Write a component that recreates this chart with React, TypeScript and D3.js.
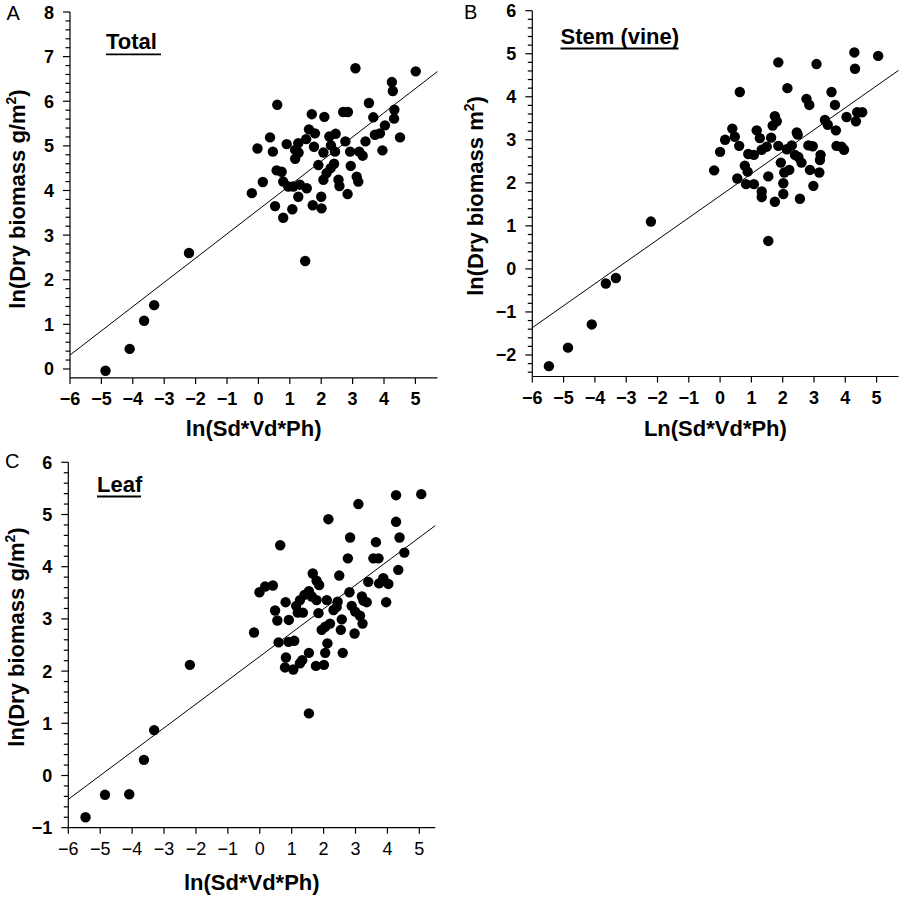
import React from "react";
import * as d3 from "d3";

// ---------- DATA ----------
const A_X = [-4.87,-4.10,-3.64,-3.32,-2.21,1.49,-0.21,-0.03,0.14,0.37,0.46,0.60,0.58,0.74,0.53,0.79,0.90,0.79,0.95,1.08,1.11,1.17,1.17,1.27,1.28,1.32,1.27,1.52,1.54,1.61,1.70,1.73,1.77,1.80,1.91,2.00,2.01,2.07,2.10,2.07,2.17,2.26,2.31,2.30,2.41,2.44,2.46,2.55,2.58,2.70,2.85,2.77,2.84,2.92,2.94,3.09,3.13,3.18,3.21,3.32,3.41,3.52,3.66,3.71,3.87,3.95,4.03,4.25,4.28,4.33,4.32,4.51,5.01];
const A_Y = [-0.04,0.45,1.08,1.43,2.60,2.42,3.94,4.94,4.19,5.19,4.87,5.92,4.45,4.42,3.65,3.39,5.04,4.20,4.09,3.58,4.09,4.91,4.71,5.06,4.85,4.13,3.86,5.15,4.05,5.37,5.71,3.67,4.98,5.28,4.57,3.86,3.60,4.85,5.65,4.24,4.39,5.21,5.01,4.50,4.60,4.87,5.27,4.24,4.10,5.76,5.76,5.10,3.92,4.87,4.55,6.74,4.31,4.20,4.87,4.78,5.10,5.96,5.64,5.25,5.28,4.90,5.46,6.43,6.23,5.81,5.61,5.19,6.67];

const B_X = [-5.47,-4.86,-4.10,-3.65,-3.33,-2.21,1.54,-0.19,0.00,0.16,0.39,0.47,0.61,0.63,0.55,0.79,0.88,0.83,0.90,1.08,1.08,1.17,1.27,1.33,1.33,1.33,1.49,1.63,1.54,1.68,1.75,1.81,1.75,1.86,1.86,1.94,2.02,2.02,2.05,2.21,2.15,2.13,2.29,2.45,2.48,2.39,2.50,2.55,2.60,2.76,2.85,2.82,2.96,2.87,2.98,3.08,3.17,3.21,3.19,3.35,3.44,3.56,3.67,3.70,3.72,3.88,3.96,4.04,4.29,4.31,4.34,4.38,4.54,5.05];
const B_Y = [-2.26,-1.83,-1.29,-0.34,-0.21,1.10,0.65,2.29,2.72,3.00,3.26,3.07,2.86,4.11,2.10,2.40,2.26,1.97,2.67,2.65,1.97,3.22,3.04,1.80,1.67,2.77,2.84,3.05,2.15,3.33,3.55,3.43,1.56,2.86,4.80,2.47,1.99,1.74,2.24,2.30,4.20,2.78,2.87,3.17,3.12,2.65,2.60,1.63,2.47,3.95,3.81,2.87,2.85,2.30,1.93,4.76,2.24,2.65,2.53,3.46,3.35,4.11,3.81,3.22,2.86,2.84,2.77,3.53,5.03,4.65,3.43,3.64,3.64,4.95];

const C_X = [-5.46,-4.85,-4.09,-3.63,-3.31,-2.19,1.54,-0.18,-0.01,0.17,0.41,0.48,0.55,0.64,0.59,0.81,0.82,0.79,0.91,0.90,1.08,1.05,1.14,1.19,1.35,1.26,1.40,1.54,1.26,1.33,1.54,1.63,1.78,1.66,1.78,1.86,1.84,1.76,2.01,1.94,2.05,2.20,2.05,2.12,2.15,2.10,2.31,2.41,2.44,2.49,2.57,2.54,2.60,2.76,2.81,2.83,2.88,2.99,2.97,3.14,3.09,3.20,3.25,3.35,3.22,3.40,3.56,3.72,3.64,3.74,3.87,3.96,4.03,4.27,4.27,4.34,4.38,4.53,5.06];
const C_Y = [-0.80,-0.37,-0.36,0.30,0.87,2.12,1.19,2.74,3.51,3.62,3.64,3.16,2.97,4.41,2.55,3.32,2.26,2.07,2.98,2.56,2.58,2.03,3.25,3.12,3.12,3.36,3.46,3.53,2.15,2.21,2.35,3.43,3.36,3.87,3.73,3.65,3.11,2.10,2.12,2.79,2.85,2.91,2.35,2.53,4.91,3.36,3.17,3.23,3.33,3.83,2.99,2.79,2.35,4.16,3.51,4.56,3.25,3.14,2.72,3.06,5.20,3.43,3.35,3.32,2.91,3.71,4.16,4.16,4.47,3.68,3.78,3.32,3.67,5.37,4.86,3.94,4.56,4.27,5.39];

const PANEL_LETTERS = ["A", "B", "C"];
const PANEL_TITLES = ["Total", "Stem (vine)", "Leaf"];
const X_TITLES = ["ln(Sd*Vd*Ph)", "Ln(Sd*Vd*Ph)", "ln(Sd*Vd*Ph)"];
const Y_TITLES_MAIN = ["ln(Dry biomass g/m", "ln(Dry biomass m", "ln(Dry biomass g/m"];
const FIT_INTERCEPT = [3.57, 1.70, 2.28];
const FIT_SLOPE = [0.543, 0.511, 0.456];
const X_DOMAINS = [[-6, 5.7], [-6, 5.7], [-6, 5.5]];
const Y_DOMAINS = [[-0.2, 8], [-2.5, 6], [-1, 6]];
const X_TICKS = [-6, -5, -4, -3, -2, -1, 0, 1, 2, 3, 4, 5];
const Y_TICKS = [
  [0, 1, 2, 3, 4, 5, 6, 7, 8],
  [-2, -1, 0, 1, 2, 3, 4, 5, 6],
  [-1, 0, 1, 2, 3, 4, 5, 6],
];

const FONT = "'Liberation Sans', Arial, Helvetica, sans-serif";

const fmt = (v: number) => (v < 0 ? "\u2212" + Math.abs(v) : String(v));

type Layout = {
  left: number; right: number; top: number; bottom: number;
  letter: [number, number];
  title: [number, number, number]; // x, baseline, underline width
  yTitle: [number, number];
  xTitleY: number;
  xTickBold: boolean;
};

const LAYOUTS: Layout[] = [
  { left: 70, right: 437.4, top: 12, bottom: 377.9, letter: [6.5, 19.5], title: [106, 49.3, 55], yTitle: [25, 199], xTitleY: 435.5, xTickBold: true },
  { left: 532.3, right: 898.5, top: 10.7, bottom: 376.5, letter: [464, 18.5], title: [560.5, 43.5, 118], yTitle: [483, 196], xTitleY: 435.5, xTickBold: true },
  { left: 68.3, right: 435.3, top: 462.3, bottom: 827.7, letter: [5, 468], title: [97, 491.5, 44], yTitle: [24, 637], xTitleY: 890, xTickBold: false },
];

const DATA_X = [A_X, B_X, C_X];
const DATA_Y = [A_Y, B_Y, C_Y];

function Panel({ i }: { i: number }) {
  const L = LAYOUTS[i];
  const xs = d3.scaleLinear().domain(X_DOMAINS[i]).range([L.left, L.right]);
  const ys = d3.scaleLinear().domain(Y_DOMAINS[i]).range([L.bottom, L.top]);
  const [y0, y1] = Y_DOMAINS[i];
  const minor: number[] = [];
  for (let k = Math.ceil(y0 / 0.2 - 1e-6); k * 0.2 <= y1 + 1e-6; k++) {
    const v = +(k * 0.2).toFixed(2);
    if (v <= y0 + 1e-6) continue;
    if (Math.abs(v - Math.round(v)) < 1e-6) continue;
    minor.push(v);
  }
  const [xd0, xd1] = X_DOMAINS[i];
  const line = d3.line<number>().x((x) => xs(x)).y((x) => ys(FIT_INTERCEPT[i] + FIT_SLOPE[i] * x));
  return (
    <g fontFamily={FONT}>
      {/* fit line */}
      <path d={line([xd0, xd1]) || ""} stroke="#000" strokeWidth={1} fill="none" />
      {/* points */}
      {DATA_X[i].map((x, j) => (
        <circle key={j} cx={xs(x)} cy={ys(DATA_Y[i][j])} r={5.2} fill="#000" />
      ))}
      {/* axes */}
      <line x1={L.left} x2={L.left} y1={L.top} y2={L.bottom} stroke="#000" strokeWidth={1.2} />
      <line x1={L.left} x2={L.right} y1={L.bottom} y2={L.bottom} stroke="#000" strokeWidth={1.2} />
      {Y_TICKS[i].map((t) => (
        <g key={"y" + t}>
          <line x1={L.left - 7} x2={L.left} y1={ys(t)} y2={ys(t)} stroke="#000" strokeWidth={1.2} />
          <text x={L.left - 16} y={ys(t) + 6.5} textAnchor="end" fontSize={18} fontWeight="bold">{fmt(t)}</text>
        </g>
      ))}
      {minor.map((t) => (
        <line key={"m" + t} x1={L.left - 4.5} x2={L.left} y1={ys(t)} y2={ys(t)} stroke="#000" strokeWidth={1.2} />
      ))}
      {X_TICKS.filter((t) => t >= xd0 && t <= xd1).map((t) => (
        <g key={"x" + t}>
          <line x1={xs(t)} x2={xs(t)} y1={L.bottom} y2={L.bottom + 6} stroke="#000" strokeWidth={1.2} />
          <text x={xs(t)} y={L.bottom + 27.5} textAnchor="middle" fontSize={18} fontWeight={L.xTickBold ? "bold" : "normal"}>{fmt(t)}</text>
        </g>
      ))}
      {/* titles */}
      <text x={(L.left + L.right) / 2} y={L.xTitleY} textAnchor="middle" fontSize={22} fontWeight="bold">{X_TITLES[i]}</text>
      <text transform={`translate(${L.yTitle[0]},${L.yTitle[1]}) rotate(-90)`} textAnchor="middle" fontSize={22} fontWeight="bold">
        {Y_TITLES_MAIN[i]}
        <tspan fontSize={14} dy={-9}>2</tspan>
        <tspan dy={9}>)</tspan>
      </text>
      <text x={L.letter[0]} y={L.letter[1]} fontSize={20}>{PANEL_LETTERS[i]}</text>
      <text x={L.title[0]} y={L.title[1]} fontSize={22} fontWeight="bold">{PANEL_TITLES[i]}</text>
      <line x1={L.title[0]} x2={L.title[0] + L.title[2]} y1={L.title[1] + 5} y2={L.title[1] + 5} stroke="#000" strokeWidth={1.8} />
    </g>
  );
}

export default function App() {
  return (
    <svg width={900} height={897} style={{ position: "absolute", left: 0, top: 0, background: "#fff" }}>
      <rect width={900} height={897} fill="#fff" />
      {[0, 1, 2].map((i) => (
        <Panel key={i} i={i} />
      ))}
    </svg>
  );
}
